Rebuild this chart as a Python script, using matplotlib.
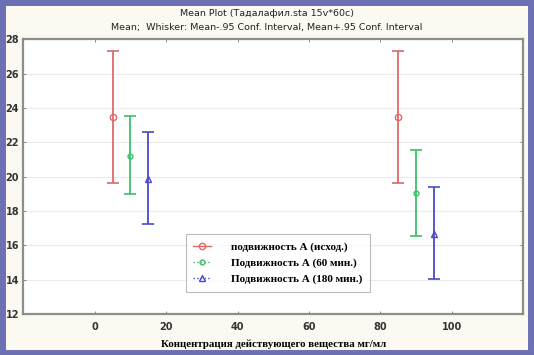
import matplotlib.pyplot as plt
from matplotlib.patches import Rectangle
from matplotlib.lines import Line2D

# Mean and 95% confidence bounds
conc = [5, 85]
offsets = [0, 5, 10]
labels = ["подвижность А (исход.)", "Подвижность А (60 мин.)", "Подвижность А (180 мин.)"]
means = [[23.46, 23.46], [21.2, 19.03], [19.86, 16.66]]
upper = [[27.32, 27.32], [23.52, 21.55], [22.6, 19.42]]
lower = [[19.65, 19.65], [18.97, 16.54], [17.24, 14.02]]

colors = ["#dc6a6a", "#3cbf6a", "#4a4ac8"]
markers = ["o", "o", "^"]
msizes = [4.5, 3.5, 4.5]
lstyles = ["-", ":", ":"]

fig = plt.figure(figsize=(5.34, 3.55), dpi=100)
fig.patch.set_facecolor("#fbf9f2")
# blue frame round the whole picture
fig.patches.append(Rectangle((0.004, 0.006), 0.99, 0.988, transform=fig.transFigure,
                             fill=False, edgecolor="#6d70b3", linewidth=5))

ax = fig.add_axes([0.0437, 0.1155, 0.9363, 0.7735])
ax.set_facecolor("white")

handles = []
for i in range(3):
    xs = [c + offsets[i] for c in conc]
    yerr = [[m - l for m, l in zip(means[i], lower[i])],
            [u - m for m, u in zip(means[i], upper[i])]]
    ax.errorbar(xs, means[i], yerr=yerr, fmt=markers[i], color=colors[i],
                mfc="none", mec=colors[i], ms=msizes[i], capsize=4,
                elinewidth=1.3, capthick=1.2, ls="none")
    handles.append(Line2D([], [], color=colors[i], ls=lstyles[i], lw=1,
                          marker=markers[i], mfc="none", ms=msizes[i]))

ax.set_xlim(-20, 120)
ax.set_ylim(12, 28)
ax.set_xticks([0, 20, 40, 60, 80, 100])
ax.set_yticks(range(12, 29, 2))
ax.yaxis.grid(True, color="#ececec", linewidth=0.8)
ax.set_axisbelow(True)
ax.tick_params(direction="in", length=2, width=0.6, color="#777777",
               top=True, right=True, labelsize=7, pad=6)
ax.tick_params(axis="y", pad=3)
for t in ax.get_xticklabels() + ax.get_yticklabels():
    t.set_fontweight("bold")
    t.set_color("#333333")
for s in ax.spines.values():
    s.set_color("#8a8f8a")
    s.set_linewidth(1.6)

fig.text(0.5, 0.955, "Mean Plot (Тадалафил.sta 15v*60c)", ha="center", fontsize=6.8,
         color="#222222")
fig.text(0.5, 0.915, "Mean;  Whisker: Mean-.95 Conf. Interval, Mean+.95 Conf. Interval",
         ha="center", fontsize=6.8, color="#222222")
ax.set_xlabel("Концентрация действующего вещества мг/мл", family="Liberation Serif",
              fontweight="bold", fontsize=7.8, labelpad=5)

leg = ax.legend(handles, labels, loc="lower left",
                bbox_to_anchor=(0.3136, 0.06, 0.39, 0.222),
                mode="expand", frameon=True, fancybox=False, handlelength=1.6,
                handletextpad=1.8, borderpad=0.7, labelspacing=0.55,
                prop={"family": "Liberation Serif", "weight": "bold", "size": 8})
leg.get_frame().set_edgecolor("#aaaaaa")
leg.get_frame().set_linewidth(0.8)

fig.savefig("out.png", dpi=100, facecolor=fig.get_facecolor())
